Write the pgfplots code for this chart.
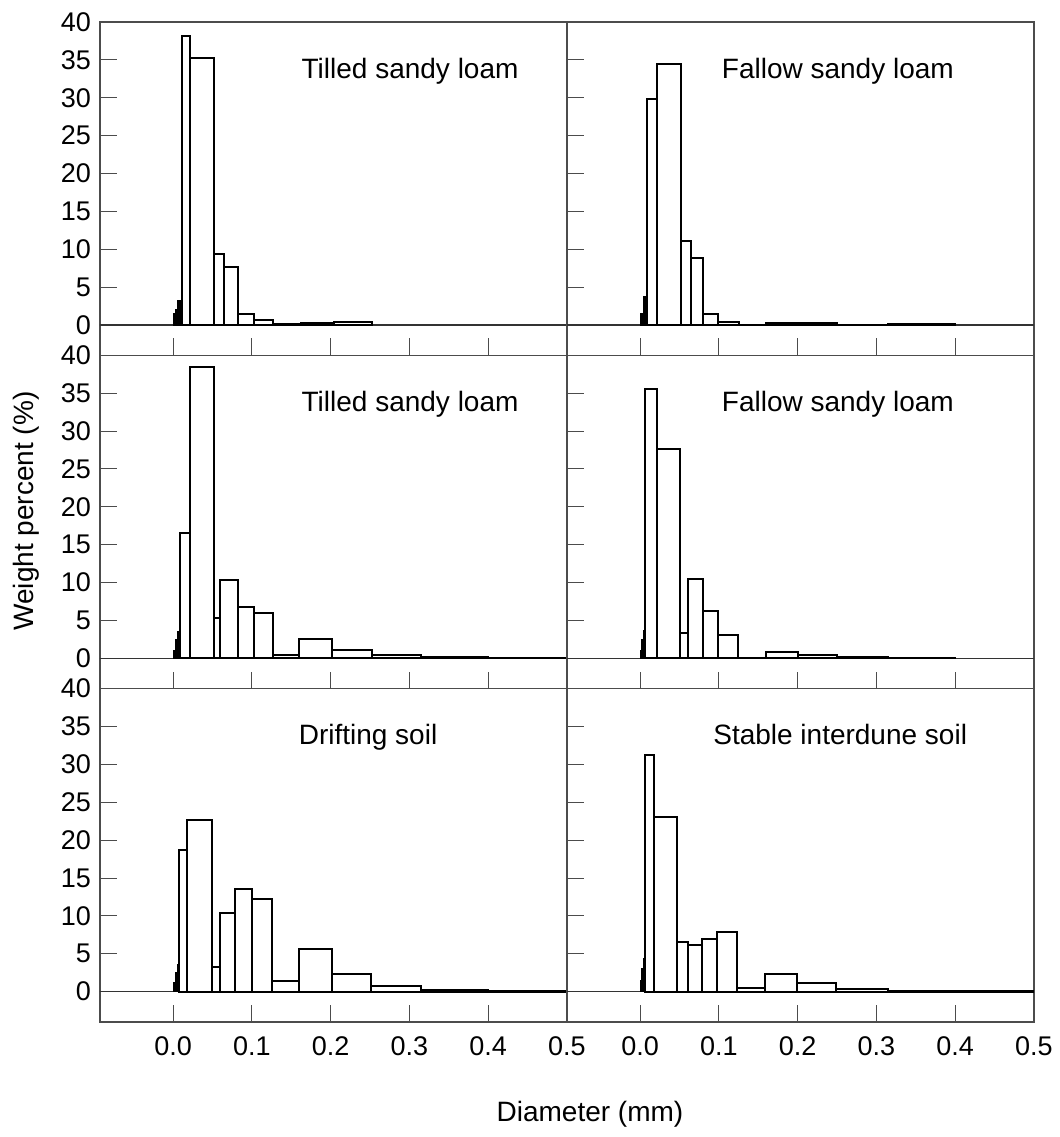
\documentclass[border=0pt]{standalone}
\usepackage{fontspec}
\setmainfont{Liberation Sans}
\usepackage{pgfplots}
\pgfplotsset{compat=1.18}

\pgfplotsset{
  panel/.style={
    scale only axis, width=233.5pt, height=166.67pt, anchor=south west,
    xmin=-0.093, xmax=0.5, ymin=-4, ymax=40,
    xtick={0,0.1,0.2,0.3,0.4,0.5}, ytick={0,5,...,40},
    xtick pos=left, ytick pos=left, tick align=inside,
    major tick length=8.5pt,
    tick style={black!70, line width=0.5pt},
    axis line style={black!70, line width=0.6pt},
    /pgf/number format/assume math mode=true,
    xticklabel=\empty,
    yticklabel style={font=\fontsize{13.5}{15}\selectfont, xshift=-1pt},
  },
  bottomrow/.style={
    xticklabel={\pgfmathprintnumber[fixed, fixed zerofill, precision=1]{\tick}},
    xticklabel style={font=\fontsize{13.5}{15}\selectfont, yshift=-4pt},
  },
  rightcol/.style={yticklabel=\empty},
  coarse/.style={ybar interval, fill=white, draw=black, line width=1pt},
  fine/.style={ybar interval, fill=black, draw=black, line width=0.6pt},
}
\newcommand{\zeroline}{\draw[black!80, line width=0.6pt] (axis cs:-0.1,0) -- (axis cs:0.5,0);}
\newcommand{\paneltitle}[2]{\node[anchor=base, font=\fontsize{14}{16}\selectfont] at (rel axis cs:#1,0.832) {#2};}

\begin{document}
\begin{tikzpicture}
\path[use as bounding box] (-50pt,-57.5pt) rectangle (480pt,511pt);

% top left
\begin{axis}[panel, at={(0pt,333.33pt)}]
\zeroline
\addplot[fine] coordinates {(0,1.5)(0.003,2.0)(0.005,3.2)(0.009,0.3)(0.011,0)};
\addplot[coarse] coordinates {(0.011,38.2)(0.021,35.2)(0.052,9.4)(0.065,7.7)(0.082,1.5)(0.102,0.6)(0.127,0.15)(0.162,0.3)(0.204,0.35)(0.253,0)};
\paneltitle{0.664}{Tilled sandy loam}
\end{axis}

% top right
\begin{axis}[panel, rightcol, at={(233.5pt,333.33pt)}]
\zeroline
\addplot[fine] coordinates {(0,1.5)(0.004,3.8)(0.009,0)};
\addplot[coarse] coordinates {(0.009,29.9)(0.021,34.5)(0.052,11.1)(0.065,8.9)(0.080,1.5)(0.099,0.4)(0.125,0.05)(0.160,0.3)(0.200,0.3)(0.250,0.05)(0.315,0.2)(0.400,0)};
\paneltitle{0.58}{Fallow sandy loam}
\end{axis}

% middle left
\begin{axis}[panel, at={(0pt,166.67pt)}]
\zeroline
\addplot[fine] coordinates {(0,1.0)(0.003,2.5)(0.005,3.5)(0.008,0)};
\addplot[coarse] coordinates {(0.008,16.6)(0.021,38.5)(0.052,5.3)(0.060,10.4)(0.082,6.8)(0.102,6.0)(0.127,0.5)(0.160,2.5)(0.201,1.06)(0.253,0.5)(0.315,0.2)(0.400,0.1)(0.500,0)};
\paneltitle{0.664}{Tilled sandy loam}
\end{axis}

% middle right
\begin{axis}[panel, rightcol, at={(233.5pt,166.67pt)}]
\zeroline
\addplot[fine] coordinates {(0,1.0)(0.002,2.5)(0.004,3.7)(0.006,0)};
\addplot[coarse] coordinates {(0.006,35.5)(0.021,27.7)(0.050,3.3)(0.061,10.5)(0.080,6.2)(0.099,3.1)(0.124,0.1)(0.160,0.9)(0.200,0.4)(0.250,0.15)(0.315,0.1)(0.400,0)};
\paneltitle{0.58}{Fallow sandy loam}
\end{axis}

% bottom left
\begin{axis}[panel, bottomrow, at={(0pt,0pt)}]
\zeroline
\addplot[fine] coordinates {(0,1.2)(0.003,2.5)(0.005,3.6)(0.007,0)};
\addplot[coarse] coordinates {(0.007,18.7)(0.017,22.7)(0.049,3.3)(0.060,10.4)(0.079,13.5)(0.100,12.2)(0.125,1.4)(0.160,5.7)(0.201,2.4)(0.251,0.75)(0.315,0.2)(0.400,0.1)(0.500,0)};
\paneltitle{0.574}{Drifting soil}
\end{axis}

% bottom right
\begin{axis}[panel, bottomrow, rightcol, at={(233.5pt,0pt)}]
\zeroline
\addplot[fine] coordinates {(0,1.5)(0.002,3.0)(0.004,4.4)(0.006,0)};
\addplot[coarse] coordinates {(0.006,31.2)(0.018,23.0)(0.047,6.5)(0.061,6.2)(0.078,7.0)(0.097,7.9)(0.123,0.5)(0.158,2.4)(0.199,1.2)(0.249,0.3)(0.315,0.1)(0.400,0.1)(0.500,0)};
\paneltitle{0.585}{Stable interdune soil}
\end{axis}

\node[rotate=90, font=\fontsize{14}{16}\selectfont] at (-37pt,255.5pt) {Weight percent (\%)};
\node[font=\fontsize{14}{16}\selectfont] at (245pt,-46pt) {Diameter (mm)};
\end{tikzpicture}
\end{document}
